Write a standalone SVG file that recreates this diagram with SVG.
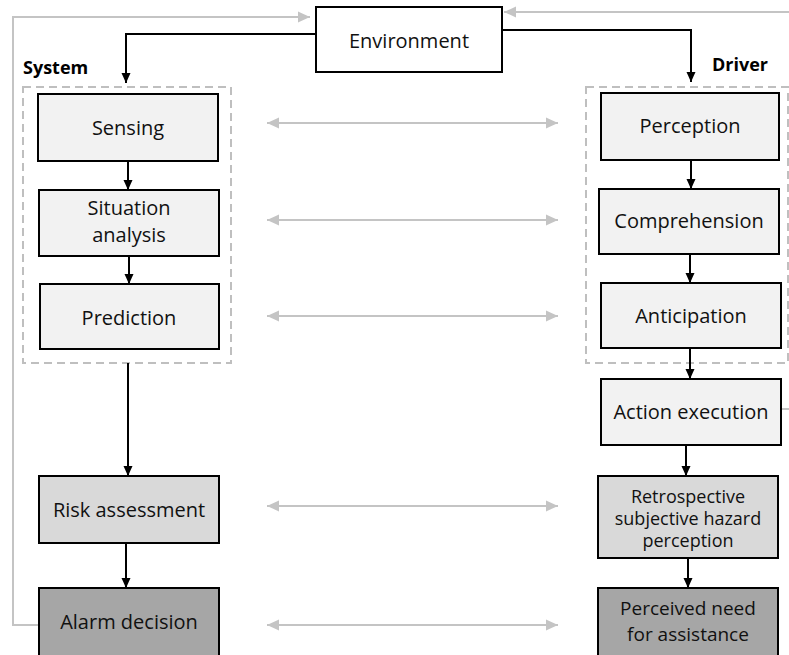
<svg xmlns="http://www.w3.org/2000/svg" width="789" height="655" viewBox="0 0 789 655">
  <defs>
    <marker id="ah" viewBox="0 0 10 10" refX="10" refY="5" markerWidth="10" markerHeight="10" markerUnits="userSpaceOnUse" orient="auto">
      <path d="M0,0.5 L10,5 L0,9.5 Z" fill="#000"/>
    </marker>
    <marker id="ahg" viewBox="0 0 10 10" refX="10" refY="5" markerWidth="12" markerHeight="12" markerUnits="userSpaceOnUse" orient="auto-start-reverse">
      <path d="M0,0.5 L10,5 L0,9.5 Z" fill="#c4c4c4"/>
    </marker>
  </defs>
  <style>
    .box { stroke: #000; stroke-width: 2; }
    .white { fill: #ffffff; }
    .light { fill: #f2f2f2; }
    .mid { fill: #d9d9d9; }
    .dark { fill: #a6a6a6; }
    .group { fill: none; stroke: #bfbfbf; stroke-width: 2; stroke-dasharray: 8 5; }
    .lbl { font-family: "Open Sans", "Liberation Sans", sans-serif; font-size: 20px; fill: #111; text-anchor: middle; }
    .sm { font-size: 18px; }
    .tight { font-size: 19px; }
    .title { font-family: "Open Sans", "Liberation Sans", sans-serif; font-size: 18px; font-weight: bold; fill: #000; }
    .flow { fill: none; stroke: #000; stroke-width: 2; marker-end: url(#ah); }
    .link { fill: none; stroke: #c4c4c4; stroke-width: 2; }
    .pair { marker-start: url(#ahg); marker-end: url(#ahg); }
  </style>

  <!-- group frames and headings -->
  <rect class="group" x="23" y="87" width="208" height="276"/>
  <rect class="group" x="586" y="87" width="202" height="276"/>
  <text class="title" x="23" y="74">System</text>
  <text class="title" x="712" y="71">Driver</text>

  <!-- connectors -->
  <g id="connectors">
    <!-- feedback loops (grey) -->
    <path class="link" d="M39,625 H13 V17 H310" marker-end="url(#ahg)"/>
    <path class="link" d="M781,409 H800 V12 H504" marker-end="url(#ahg)"/>
    <!-- environment to both sides -->
    <path class="flow" d="M316,34 H126 V83"/>
    <path class="flow" d="M502,30 H691 V82"/>
    <!-- system chain -->
    <path class="flow" d="M128,161 V190"/>
    <path class="flow" d="M129,256 V284"/>
    <path class="flow" d="M128,363 V476"/>
    <path class="flow" d="M126,543 V588"/>
    <!-- driver chain -->
    <path class="flow" d="M691,160 V189"/>
    <path class="flow" d="M690,254 V283"/>
    <path class="flow" d="M690,348 V379"/>
    <path class="flow" d="M686,445 V476"/>
    <path class="flow" d="M688,558 V588"/>
    <!-- correspondences -->
    <path class="link pair" d="M267,123 H558"/>
    <path class="link pair" d="M267,220 H558"/>
    <path class="link pair" d="M267,316 H558"/>
    <path class="link pair" d="M267,506 H558"/>
    <path class="link pair" d="M267,625 H558"/>
  </g>

  <g id="environment">
    <rect class="box white" x="316" y="7" width="186" height="65"/>
    <text class="lbl" x="409" y="48">Environment</text>
  </g>

  <g id="sensing">
    <rect class="box light" x="38" y="94" width="180" height="67"/>
    <text class="lbl" x="128" y="135">Sensing</text>
  </g>
  <g id="situation-analysis">
    <rect class="box light" x="39" y="190" width="180" height="66"/>
    <text class="lbl" x="129" y="215">Situation</text>
    <text class="lbl" x="129" y="242">analysis</text>
  </g>
  <g id="prediction">
    <rect class="box light" x="40" y="284" width="179" height="65"/>
    <text class="lbl" x="129" y="325">Prediction</text>
  </g>
  <g id="risk-assessment">
    <rect class="box mid" x="39" y="476" width="180" height="67"/>
    <text class="lbl" x="129" y="517">Risk assessment</text>
  </g>
  <g id="alarm-decision">
    <rect class="box dark" x="39" y="588" width="180" height="70"/>
    <text class="lbl" x="129" y="629">Alarm decision</text>
  </g>

  <g id="perception">
    <rect class="box light" x="601" y="93" width="178" height="67"/>
    <text class="lbl" x="690" y="133">Perception</text>
  </g>
  <g id="comprehension">
    <rect class="box light" x="599" y="189" width="180" height="65"/>
    <text class="lbl" x="689" y="228">Comprehension</text>
  </g>
  <g id="anticipation">
    <rect class="box light" x="601" y="283" width="180" height="65"/>
    <text class="lbl" x="691" y="323">Anticipation</text>
  </g>
  <g id="action-execution">
    <rect class="box light" x="601" y="379" width="180" height="66"/>
    <text class="lbl" x="691" y="419">Action execution</text>
  </g>
  <g id="hazard-perception">
    <rect class="box mid" x="598" y="476" width="180" height="82"/>
    <text class="lbl sm" x="688" y="503">Retrospective</text>
    <text class="lbl sm" x="688" y="525">subjective hazard</text>
    <text class="lbl sm" x="688" y="547">perception</text>
  </g>
  <g id="need-for-assistance">
    <rect class="box dark" x="598" y="588" width="180" height="70"/>
    <text class="lbl tight" x="688" y="615">Perceived need</text>
    <text class="lbl tight" x="688" y="641">for assistance</text>
  </g>
</svg>
